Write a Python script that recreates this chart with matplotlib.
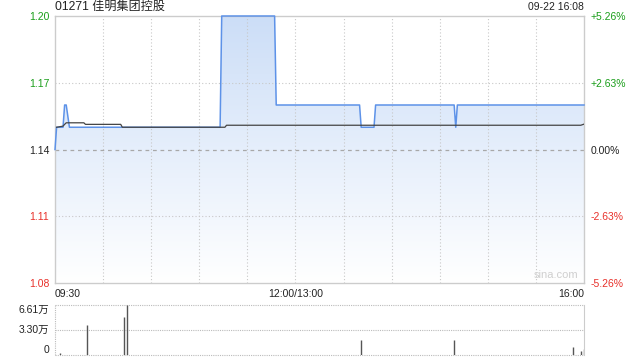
import numpy as np
import matplotlib.pyplot as plt
from matplotlib.patches import Polygon

plt.rcParams['font.family'] = ['Liberation Sans', 'Noto Sans CJK SC', 'DejaVu Sans']

# minutes since 09:30 (lunch break removed, 330 = 16:00)
price_t = [0, 1, 5, 6, 7, 9, 103, 104, 137, 138, 190, 191, 199, 200, 249, 250, 251, 330]
price_v = [1.14, 1.15, 1.15, 1.16, 1.16, 1.15, 1.15, 1.20, 1.20, 1.16, 1.16, 1.15, 1.15, 1.16,
           1.16, 1.15, 1.16, 1.16]

avg_t = [1, 5, 6, 7, 18, 19, 41, 42, 106, 107, 328, 330]
avg_v = [1.15, 1.1505, 1.1513, 1.152, 1.152, 1.1513, 1.1513, 1.150, 1.150, 1.1509, 1.1509, 1.1514]

vol_t = [3, 20, 43, 45, 191, 249, 323, 328, 330]
vol_v = [0.3, 3.97, 5.0, 6.61, 2.0, 2.0, 1.06, 0.5, 0.8]  # 万

prev_close = 1.14
price_ticks = [1.20, 1.17, 1.14, 1.11, 1.08]
pct_labels = ['+5.26%', '+2.63%', '0.00%', '-2.63%', '-5.26%']
vol_ticks = [6.61, 3.30, 0]
vol_labels = ['6.61万', '3.30万', '0']

green = '#1a9e1a'
red = '#e8302a'
grid_c = '#c8c8c8'
line_c = '#5d92e8'

fig = plt.figure(figsize=(6.4, 3.6), dpi=100)
L, R = 55 / 640, 584 / 640
ax = fig.add_axes([L, 1 - 283 / 360, R - L, (283 - 16) / 360])
axv = fig.add_axes([L, 1 - 355 / 360, R - L, (355 - 305) / 360])

ax.set_xlim(0, 330)
ax.set_ylim(1.08, 1.20)

# gradient fill under price line
grad = np.linspace(0, 1, 256).reshape(-1, 1)
top = np.array([0.80, 0.87, 0.97])
bot = np.array([1.0, 1.0, 1.0])
img = top[None, None, :] * (1 - grad[:, :, None]) + bot[None, None, :] * grad[:, :, None]
im = ax.imshow(img, extent=[0, 330, 1.08, 1.20], aspect='auto', origin='upper', zorder=1)
poly = Polygon(list(zip(price_t, price_v)) + [(330, 1.08), (0, 1.08)], closed=True,
               transform=ax.transData, facecolor='none', edgecolor='none')
ax.add_patch(poly)
im.set_clip_path(poly)

ax.plot(price_t, price_v, color=line_c, lw=1.1, zorder=4, clip_on=False)
ax.plot(avg_t, avg_v, color='#444444', lw=0.9, zorder=5)

for m in range(30, 330, 30):
    ax.axvline(m, color=grid_c, lw=0.8, ls=(0, (1, 2)), zorder=2)
for p in [1.17, 1.11]:
    ax.axhline(p, color=grid_c, lw=0.8, ls=(0, (1, 2)), zorder=2)
ax.axhline(prev_close, color='#a8a8a8', lw=0.9, ls=(0, (3, 3)), zorder=2)

for s in ax.spines.values():
    s.set_color('#cccccc')
    s.set_linewidth(1)

ax.set_xticks([])
ax.set_yticks(price_ticks)
ax.set_yticklabels(['%.2f' % p for p in price_ticks])
ax.tick_params(axis='y', length=0, pad=4, labelsize=7.5)
for lab, p in zip(ax.get_yticklabels(), price_ticks):
    lab.set_color(green if p > prev_close else (red if p < prev_close else '#222222'))

axr = ax.twinx()
axr.set_ylim(1.08, 1.20)
axr.set_yticks(price_ticks)
axr.set_yticklabels(pct_labels)
axr.tick_params(axis='y', length=0, pad=5, labelsize=7.5)
for lab, p in zip(axr.get_yticklabels(), price_ticks):
    lab.set_color(green if p > prev_close else (red if p < prev_close else '#222222'))
for s in axr.spines.values():
    s.set_visible(False)

ax.text(0.99, 0.012, 'sina.com', transform=ax.transAxes, ha='right', va='bottom',
        fontsize=8, color='#cfcfcf', zorder=6)

# time labels
fig.text(L, 1 - 294 / 360, '09:30', ha='left', va='center', fontsize=7.5, color='#222222')
fig.text(L + (R - L) * 150 / 330, 1 - 294 / 360, '12:00/13:00', ha='center', va='center',
         fontsize=7.5, color='#222222')
fig.text(R, 1 - 294 / 360, '16:00', ha='right', va='center', fontsize=7.5, color='#222222')

fig.text(L, 1 - 7 / 360, '01271 佳明集团控股', ha='left', va='center', fontsize=8.7, color='#222222')
fig.text(R, 1 - 7 / 360, '09-22 16:08', ha='right', va='center', fontsize=7.5, color='#222222')

# volume panel
axv.set_xlim(0, 330)
axv.set_ylim(0, 6.61)
axv.vlines(vol_t, 0, vol_v, color='#555555', lw=1)
for v in vol_ticks:
    axv.axhline(v, color='#bbbbbb', lw=0.8, ls=(0, (1, 1)), zorder=0, clip_on=False)
axv.axvline(0, color='#bbbbbb', lw=0.8, ls=(0, (1, 1)), zorder=0, clip_on=False)
for name, s in axv.spines.items():
    s.set_visible(name == 'right')
    s.set_color('#cccccc')
axv.set_xticks([])
axv.set_yticks(vol_ticks)
axv.set_yticklabels(vol_labels)
axv.tick_params(axis='y', length=0, pad=4, labelsize=7.5, labelcolor='#222222')
vas = ['top', 'center', 'bottom']
for lab, va in zip(axv.get_yticklabels(), vas):
    lab.set_verticalalignment(va)

fig.savefig('out.png', dpi=100)
